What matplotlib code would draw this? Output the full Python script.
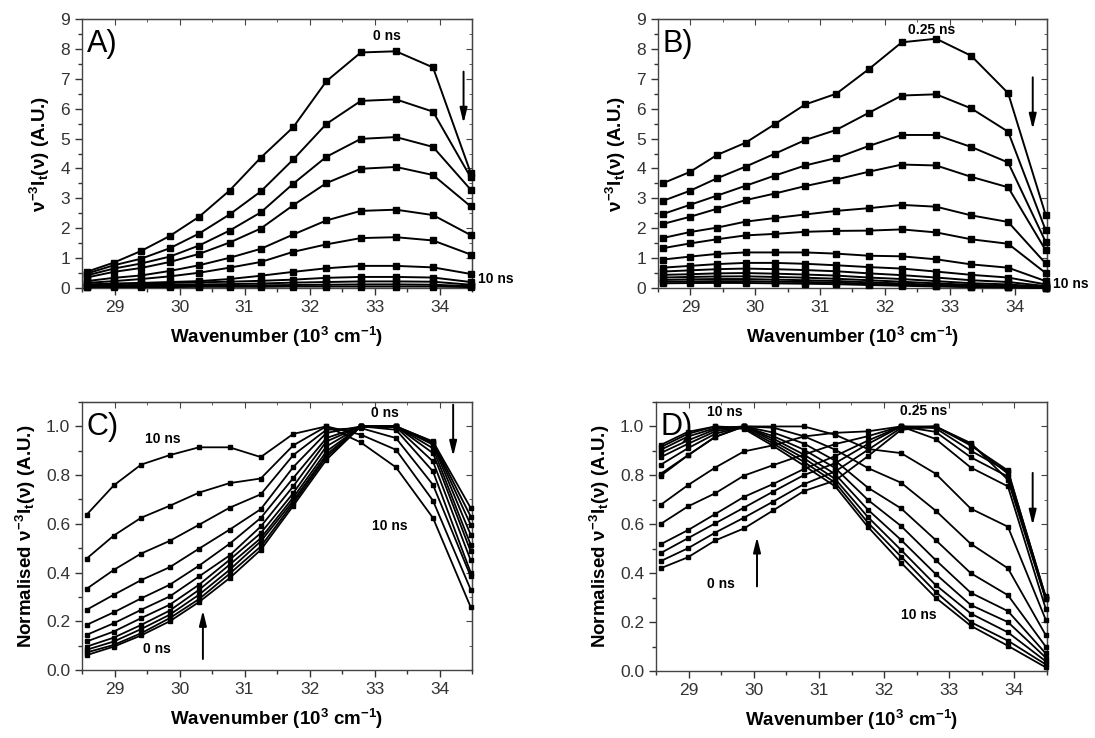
import numpy as np
import matplotlib
matplotlib.use("Agg")
import matplotlib.pyplot as plt
from matplotlib.ticker import MultipleLocator

plt.rcParams['font.family'] = ['Liberation Sans', 'DejaVu Sans']
plt.rcParams['mathtext.fontset'] = 'custom'
plt.rcParams['mathtext.rm'] = 'Liberation Sans:bold'
plt.rcParams['mathtext.it'] = 'Liberation Sans:bold'
plt.rcParams['mathtext.bf'] = 'Liberation Sans:bold'

# wavenumbers (10^3 cm^-1), 350 nm ... 290 nm
wavenumber = [28.57, 28.99, 29.41, 29.85, 30.30, 30.77, 31.25, 31.75, 32.26, 32.79, 33.33, 33.90, 34.48]

# A) raw spectra, 0 ns -> 10 ns
spec_a = [
    [0.54, 0.85, 1.24, 1.74, 2.38, 3.26, 4.36, 5.38, 6.92, 7.88, 7.92, 7.38, 3.85],
    [0.48, 0.76, 0.98, 1.33, 1.82, 2.46, 3.23, 4.30, 5.49, 6.26, 6.31, 5.90, 3.70],
    [0.42, 0.65, 0.82, 1.05, 1.42, 1.92, 2.53, 3.49, 4.39, 4.99, 5.05, 4.72, 3.29],
    [0.35, 0.54, 0.67, 0.87, 1.14, 1.52, 1.99, 2.77, 3.51, 3.99, 4.05, 3.78, 2.73],
    [0.23, 0.34, 0.42, 0.57, 0.76, 1.01, 1.31, 1.79, 2.26, 2.58, 2.62, 2.44, 1.77],
    [0.17, 0.23, 0.30, 0.39, 0.51, 0.68, 0.87, 1.21, 1.46, 1.67, 1.70, 1.59, 1.12],
    [0.12, 0.15, 0.17, 0.20, 0.23, 0.30, 0.41, 0.54, 0.66, 0.74, 0.74, 0.69, 0.47],
    [0.10, 0.13, 0.15, 0.17, 0.19, 0.21, 0.24, 0.28, 0.34, 0.37, 0.37, 0.35, 0.20],
    [0.07, 0.09, 0.10, 0.11, 0.12, 0.13, 0.15, 0.18, 0.20, 0.22, 0.22, 0.21, 0.11],
    [0.05, 0.06, 0.06, 0.07, 0.07, 0.08, 0.09, 0.10, 0.11, 0.12, 0.12, 0.11, 0.06],
    [0.03, 0.03, 0.03, 0.03, 0.04, 0.04, 0.04, 0.05, 0.05, 0.05, 0.05, 0.05, 0.03],
]

# B) raw spectra, 0.25 ns -> 10 ns
spec_b = [
    [3.50, 3.88, 4.45, 4.86, 5.48, 6.14, 6.50, 7.32, 8.22, 8.34, 7.77, 6.52, 2.44],
    [2.91, 3.25, 3.67, 4.06, 4.49, 4.95, 5.29, 5.86, 6.44, 6.48, 6.01, 5.23, 1.93],
    [2.47, 2.78, 3.09, 3.42, 3.76, 4.10, 4.35, 4.75, 5.12, 5.12, 4.72, 4.20, 1.54],
    [2.14, 2.38, 2.65, 2.94, 3.16, 3.41, 3.63, 3.89, 4.13, 4.10, 3.72, 3.37, 1.26],
    [1.67, 1.87, 2.02, 2.22, 2.34, 2.46, 2.58, 2.67, 2.78, 2.72, 2.43, 2.21, 0.82],
    [1.33, 1.49, 1.63, 1.76, 1.81, 1.88, 1.91, 1.92, 1.96, 1.86, 1.63, 1.48, 0.50],
    [0.95, 1.05, 1.14, 1.19, 1.19, 1.19, 1.15, 1.08, 1.06, 0.96, 0.79, 0.68, 0.23],
    [0.68, 0.74, 0.80, 0.84, 0.84, 0.81, 0.76, 0.70, 0.65, 0.55, 0.44, 0.35, 0.12],
    [0.55, 0.59, 0.63, 0.65, 0.63, 0.60, 0.56, 0.49, 0.43, 0.35, 0.26, 0.20, 0.065],
    [0.44, 0.46, 0.49, 0.50, 0.48, 0.45, 0.415, 0.35, 0.30, 0.23, 0.16, 0.12, 0.036],
    [0.35, 0.37, 0.385, 0.39, 0.37, 0.345, 0.31, 0.26, 0.21, 0.155, 0.105, 0.078, 0.021],
    [0.27, 0.29, 0.30, 0.30, 0.28, 0.26, 0.235, 0.19, 0.15, 0.105, 0.07, 0.047, 0.012],
    [0.21, 0.22, 0.23, 0.23, 0.21, 0.20, 0.18, 0.14, 0.11, 0.075, 0.046, 0.029, 0.006],
    [0.157, 0.166, 0.17, 0.168, 0.156, 0.143, 0.128, 0.10, 0.075, 0.051, 0.031, 0.018, 0.003],
]

# C) normalised, 10 ns (top left) -> 0 ns
norm_c = [
    [0.637, 0.758, 0.843, 0.882, 0.914, 0.914, 0.874, 0.969, 1.0, 0.934, 0.832, 0.624, 0.258],
    [0.457, 0.552, 0.625, 0.674, 0.728, 0.767, 0.786, 0.922, 1.0, 0.966, 0.904, 0.695, 0.330],
    [0.333, 0.411, 0.478, 0.530, 0.596, 0.666, 0.721, 0.882, 0.986, 0.993, 0.952, 0.760, 0.384],
    [0.247, 0.309, 0.369, 0.422, 0.498, 0.576, 0.660, 0.833, 0.973, 1.0, 0.986, 0.815, 0.400],
    [0.185, 0.237, 0.294, 0.350, 0.428, 0.518, 0.624, 0.788, 0.952, 1.0, 0.997, 0.856, 0.450],
    [0.144, 0.192, 0.247, 0.302, 0.384, 0.470, 0.589, 0.754, 0.938, 1.0, 1.0, 0.890, 0.487],
    [0.117, 0.158, 0.213, 0.268, 0.350, 0.452, 0.562, 0.726, 0.918, 1.0, 1.0, 0.910, 0.514],
    [0.096, 0.133, 0.185, 0.244, 0.329, 0.432, 0.541, 0.708, 0.897, 1.0, 1.0, 0.925, 0.555],
    [0.083, 0.117, 0.168, 0.227, 0.309, 0.411, 0.528, 0.695, 0.884, 1.0, 1.0, 0.932, 0.596],
    [0.072, 0.103, 0.151, 0.213, 0.291, 0.395, 0.507, 0.685, 0.874, 1.0, 1.0, 0.936, 0.630],
    [0.061, 0.096, 0.142, 0.200, 0.279, 0.377, 0.493, 0.674, 0.863, 1.0, 1.0, 0.938, 0.665],
]

# D) normalised, 0 ns -> 10 ns
norm_d = [
    [0.420, 0.465, 0.534, 0.583, 0.657, 0.736, 0.779, 0.878, 0.986, 1.0, 0.932, 0.782, 0.293],
    [0.449, 0.502, 0.566, 0.627, 0.693, 0.764, 0.816, 0.904, 0.994, 1.0, 0.927, 0.807, 0.298],
    [0.482, 0.543, 0.604, 0.668, 0.734, 0.801, 0.850, 0.928, 1.0, 1.0, 0.922, 0.820, 0.301],
    [0.518, 0.576, 0.642, 0.712, 0.765, 0.826, 0.879, 0.942, 1.0, 0.993, 0.901, 0.816, 0.305],
    [0.601, 0.673, 0.727, 0.799, 0.842, 0.885, 0.928, 0.960, 1.0, 0.978, 0.874, 0.795, 0.295],
    [0.679, 0.760, 0.832, 0.898, 0.923, 0.959, 0.974, 0.980, 1.0, 0.949, 0.832, 0.755, 0.255],
    [0.798, 0.882, 0.958, 1.0, 1.0, 1.0, 0.966, 0.908, 0.891, 0.807, 0.664, 0.590, 0.210],
    [0.806, 0.882, 0.957, 1.0, 0.995, 0.960, 0.905, 0.830, 0.770, 0.656, 0.520, 0.420, 0.147],
    [0.843, 0.911, 0.970, 1.0, 0.975, 0.930, 0.860, 0.750, 0.665, 0.536, 0.400, 0.310, 0.100],
    [0.874, 0.929, 0.980, 1.0, 0.960, 0.905, 0.830, 0.700, 0.593, 0.454, 0.320, 0.245, 0.072],
    [0.891, 0.943, 0.988, 1.0, 0.950, 0.885, 0.805, 0.660, 0.536, 0.397, 0.270, 0.200, 0.055],
    [0.904, 0.959, 0.993, 1.0, 0.940, 0.870, 0.785, 0.630, 0.495, 0.352, 0.235, 0.158, 0.040],
    [0.915, 0.970, 1.0, 0.995, 0.930, 0.855, 0.770, 0.607, 0.468, 0.324, 0.200, 0.124, 0.027],
    [0.924, 0.978, 1.0, 0.990, 0.920, 0.840, 0.755, 0.590, 0.443, 0.300, 0.185, 0.103, 0.015],
]

W, H = 1095, 738
fig = plt.figure(figsize=(W / 100, H / 100), dpi=100)


def box(l, t, r, b):
    return [l / W, 1 - b / H, (r - l) / W, (b - t) / H]


ax_a = fig.add_axes(box(82, 19, 472, 288))
ax_b = fig.add_axes(box(658, 19, 1047, 288))
ax_c = fig.add_axes(box(82, 402, 472, 670))
ax_d = fig.add_axes(box(656, 402, 1047, 671))

xlab = r'Wavenumber (10$^3$ cm$^{-1}$)'
ylab_raw = r'$\nu^{-3}$I$_t$($\nu$) (A.U.)'
ylab_norm = r'Normalised $\nu^{-3}$I$_t$($\nu$) (A.U.)'


def style(ax, ymax, ymaj, ymin, yfmt, panel, ylab):
    ax.set_xlim(28.5, 34.5)
    ax.set_ylim(0, ymax)
    ax.xaxis.set_major_locator(MultipleLocator(1))
    ax.xaxis.set_minor_locator(MultipleLocator(0.5))
    ax.yaxis.set_major_locator(MultipleLocator(ymaj))
    ax.yaxis.set_minor_locator(MultipleLocator(ymin))
    ax.yaxis.set_major_formatter(yfmt)
    ax.tick_params(which='both', direction='out', labelsize=12.5, colors='#333333')
    ax.tick_params(which='major', length=5, width=1)
    ax.tick_params(which='minor', length=3, width=1)
    for s in ax.spines.values():
        s.set_color('#444444')
        s.set_linewidth(1.0)
    top = ax.secondary_xaxis('top')
    top.xaxis.set_major_locator(MultipleLocator(1))
    top.xaxis.set_minor_locator(MultipleLocator(0.5))
    top.tick_params(which='both', direction='in', labeltop=False, colors='#444444')
    top.tick_params(which='major', length=4)
    top.tick_params(which='minor', length=2.5)
    right = ax.secondary_yaxis('right')
    right.yaxis.set_major_locator(MultipleLocator(ymaj))
    right.yaxis.set_minor_locator(MultipleLocator(ymin))
    right.tick_params(which='both', direction='in', labelright=False, colors='#444444')
    right.tick_params(which='major', length=4)
    right.tick_params(which='minor', length=2.5)
    ax.set_xlabel(xlab, fontsize=13.5, fontweight='bold', labelpad=7)
    ax.set_ylabel(ylab, fontsize=13.5, fontweight='bold', labelpad=6)
    ax.text(0.012, 0.962, panel, transform=ax.transAxes, fontsize=22,
            va='top', ha='left')


def arrow(ax, x, y0, y1):
    ax.annotate('', xy=(x, y1), xytext=(x, y0),
                arrowprops=dict(arrowstyle='-|>,head_width=0.22,head_length=0.9',
                                color='k', lw=1.4, shrinkA=0, shrinkB=0))


for s in spec_a:
    ax_a.plot(wavenumber, s, color='k', lw=1.4, marker='s', ms=4.6, clip_on=False, zorder=3)
for s in spec_b:
    ax_b.plot(wavenumber, s, color='k', lw=1.4, marker='s', ms=4.6, clip_on=False, zorder=3)
for s in norm_c:
    ax_c.plot(wavenumber, s, color='k', lw=1.3, marker='s', ms=3.0, clip_on=False, zorder=3)
for s in norm_d:
    ax_d.plot(wavenumber, s, color='k', lw=1.3, marker='s', ms=3.0, clip_on=False, zorder=3)

style(ax_a, 9, 1, 0.5, '{x:.0f}', 'A)', ylab_raw)
style(ax_b, 9, 1, 0.5, '{x:.0f}', 'B)', ylab_raw)
style(ax_c, 1.1, 0.2, 0.1, '{x:.1f}', 'C)', ylab_norm)
style(ax_d, 1.1, 0.2, 0.1, '{x:.1f}', 'D)', ylab_norm)

fs = 10
ax_a.text(33.19, 8.44, '0 ns', fontsize=fs, fontweight='bold', ha='center', va='center')
ax_a.text(34.59, 0.31, '10 ns', fontsize=fs, fontweight='bold', ha='left', va='center', clip_on=False)
arrow(ax_a, 34.37, 7.24, 5.51)

ax_b.text(32.72, 8.62, '0.25 ns', fontsize=fs, fontweight='bold', ha='center', va='center')
ax_b.text(34.59, 0.15, '10 ns', fontsize=fs, fontweight='bold', ha='left', va='center', clip_on=False)
arrow(ax_b, 34.28, 7.05, 5.31)

ax_c.text(29.74, 0.948, '10 ns', fontsize=fs, fontweight='bold', ha='center', va='center')
ax_c.text(33.16, 1.055, '0 ns', fontsize=fs, fontweight='bold', ha='center', va='center')
ax_c.text(33.23, 0.589, '10 ns', fontsize=fs, fontweight='bold', ha='center', va='center')
ax_c.text(29.66, 0.086, '0 ns', fontsize=fs, fontweight='bold', ha='center', va='center')
arrow(ax_c, 34.21, 1.089, 0.877)
arrow(ax_c, 30.36, 0.045, 0.245)

ax_d.text(29.55, 1.059, '10 ns', fontsize=fs, fontweight='bold', ha='center', va='center')
ax_d.text(32.60, 1.063, '0.25 ns', fontsize=fs, fontweight='bold', ha='center', va='center')
ax_d.text(29.50, 0.357, '0 ns', fontsize=fs, fontweight='bold', ha='center', va='center')
ax_d.text(32.54, 0.230, '10 ns', fontsize=fs, fontweight='bold', ha='center', va='center')
arrow(ax_d, 34.28, 0.81, 0.596)
arrow(ax_d, 30.05, 0.346, 0.548)

fig.savefig('out.png', dpi=100)
